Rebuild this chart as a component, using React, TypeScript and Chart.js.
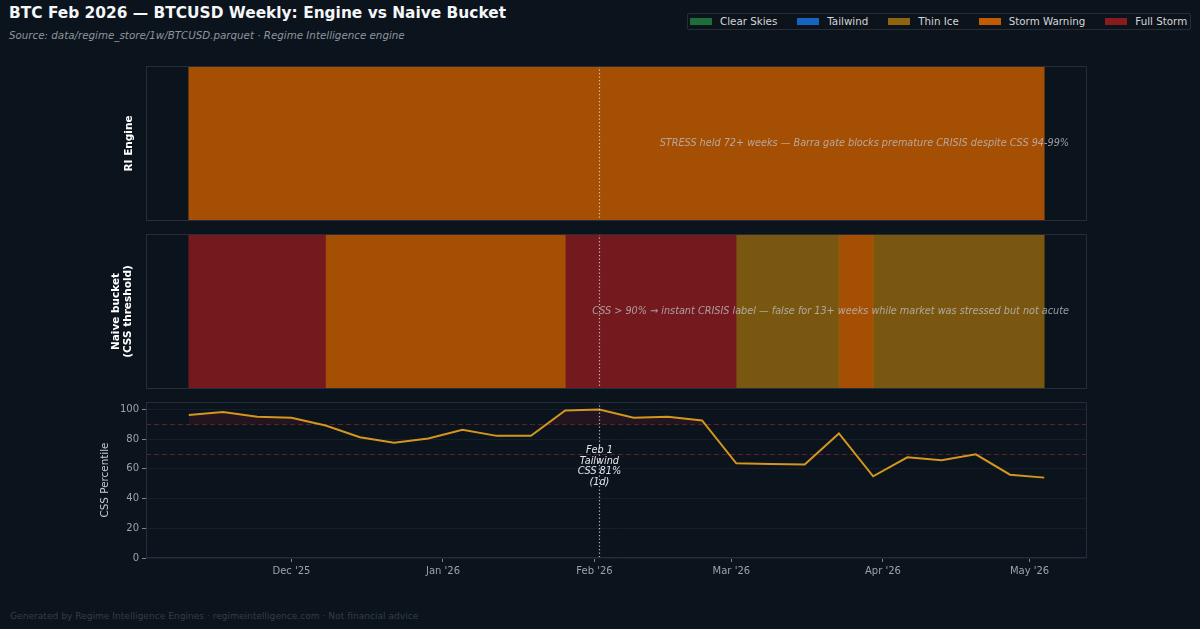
import React, { useEffect, useRef } from 'react';
import { Chart, registerables } from 'chart.js';

Chart.register(...registerables);

const FONT = '"DejaVu Sans", "Noto Sans", sans-serif';
Chart.defaults.font.family = FONT;

// Weekly bars (week start dates) and CSS percentile per week
const weekStarts = [
  '2025-11-10', '2025-11-17', '2025-11-24', '2025-12-01', '2025-12-08', '2025-12-15',
  '2025-12-22', '2025-12-29', '2026-01-05', '2026-01-12', '2026-01-19', '2026-01-26',
  '2026-02-02', '2026-02-09', '2026-02-16', '2026-02-23', '2026-03-02', '2026-03-09',
  '2026-03-16', '2026-03-23', '2026-03-30', '2026-04-06', '2026-04-13', '2026-04-20',
  '2026-04-27', '2026-05-04',
];
const cssPercentile = [
  96.2, 98.2, 95.0, 94.4, 89.2, 81.3, 77.5, 80.4, 86.3, 82.2, 82.2, 99.3, 100.0,
  94.4, 95.0, 92.6, 63.7, 63.3, 63.0, 83.8, 55.0, 67.8, 65.8, 69.8, 56.1, 54.1,
];

// Regime held from each week start to the next one
const engineRegime = [
  'Storm Warning', 'Storm Warning', 'Storm Warning', 'Storm Warning', 'Storm Warning',
  'Storm Warning', 'Storm Warning', 'Storm Warning', 'Storm Warning', 'Storm Warning',
  'Storm Warning', 'Storm Warning', 'Storm Warning', 'Storm Warning', 'Storm Warning',
  'Storm Warning', 'Storm Warning', 'Storm Warning', 'Storm Warning', 'Storm Warning',
  'Storm Warning', 'Storm Warning', 'Storm Warning', 'Storm Warning', 'Storm Warning',
];
const naiveRegime = [
  'Full Storm', 'Full Storm', 'Full Storm', 'Full Storm',
  'Storm Warning', 'Storm Warning', 'Storm Warning', 'Storm Warning', 'Storm Warning',
  'Storm Warning', 'Storm Warning',
  'Full Storm', 'Full Storm', 'Full Storm', 'Full Storm', 'Full Storm',
  'Thin Ice', 'Thin Ice', 'Thin Ice',
  'Storm Warning',
  'Thin Ice', 'Thin Ice', 'Thin Ice', 'Thin Ice', 'Thin Ice',
];

const regimeNames = ['Clear Skies', 'Tailwind', 'Thin Ice', 'Storm Warning', 'Full Storm'];
const regimeColors = ['#1e6e3c', '#1565c0', '#8e640f', '#c15a00', '#871b1e'];

const monthTicks = ['2025-12-01', '2026-01-01', '2026-02-01', '2026-03-01', '2026-04-01', '2026-05-01'];
const monthTickLabels = ["Dec '25", "Jan '26", "Feb '26", "Mar '26", "Apr '26", "May '26"];
const percentileTicks = [0, 20, 40, 60, 80, 100];
const thresholdLines = [90, 70];

const eventDate = '2026-02-02';
const eventNote = ['Feb 1', 'Tailwind', 'CSS 81%', '(1d)'];
const eventNoteLevel = 61.6;
const engineNote = 'STRESS held 72+ weeks \u2014 Barra gate blocks premature CRISIS despite CSS 94-99%';
const naiveNote = 'CSS > 90% \u2192 instant CRISIS label \u2014 false for 13+ weeks while market was stressed but not acute';

const toMs = (d: string) => Date.parse(d + 'T00:00:00Z');
const firstMs = toMs(weekStarts[0]);
const lastMs = toMs(weekStarts[weekStarts.length - 1]);
const xPad = (lastMs - firstMs) * 0.05;
const xMin = firstMs - xPad;
const xMax = lastMs + xPad;
const monthMs = monthTicks.map(toMs);

const PAGE_BG = '#0b131c';
const FRAME = '#252d38';
const AXIS_TEXT = '#9aa3ad';

function hexAlpha(hex: string, a: number) {
  const n = parseInt(hex.slice(1), 16);
  return `rgba(${(n >> 16) & 255},${(n >> 8) & 255},${n & 255},${a})`;
}

function regimeSpans(regimes: string[]) {
  const spans: { name: string; start: number; end: number }[] = [];
  regimes.forEach((name, i) => {
    const start = toMs(weekStarts[i]);
    const end = toMs(weekStarts[i + 1]);
    const last = spans[spans.length - 1];
    if (last && last.name === name) last.end = end;
    else spans.push({ name, start, end });
  });
  return spans;
}

const framePlugin = {
  id: 'frame',
  afterDatasetsDraw(chart: any) {
    const { ctx, chartArea: a } = chart;
    ctx.save();
    ctx.strokeStyle = FRAME;
    ctx.lineWidth = 1;
    ctx.strokeRect(a.left + 0.5, a.top + 0.5, a.right - a.left - 1, a.bottom - a.top - 1);
    ctx.restore();
  },
};

const eventLinePlugin = {
  id: 'eventLine',
  afterDatasetsDraw(chart: any) {
    const { ctx, chartArea: a, scales } = chart;
    const x = Math.round(scales.x.getPixelForValue(toMs(eventDate))) + 0.5;
    ctx.save();
    ctx.strokeStyle = 'rgba(225,228,232,0.8)';
    ctx.lineWidth = 1.2;
    ctx.setLineDash([1.3, 2.2]);
    ctx.beginPath();
    ctx.moveTo(x, a.top);
    ctx.lineTo(x, a.bottom);
    ctx.stroke();
    ctx.restore();
  },
};

function notePlugin(text: string) {
  return {
    id: 'note',
    afterDatasetsDraw(chart: any) {
      const { ctx, chartArea: a } = chart;
      ctx.save();
      ctx.font = `italic 9.7px ${FONT}`;
      ctx.fillStyle = 'rgba(190,192,196,0.78)';
      ctx.textAlign = 'right';
      ctx.textBaseline = 'middle';
      ctx.fillText(text, a.right - 18, (a.top + a.bottom) / 2);
      ctx.restore();
    },
  };
}

const thresholdPlugin = {
  id: 'thresholds',
  beforeDatasetsDraw(chart: any) {
    const { ctx, chartArea: a, scales } = chart;
    ctx.save();
    ctx.strokeStyle = 'rgba(125,36,40,0.8)';
    ctx.lineWidth = 1.1;
    ctx.setLineDash([5, 3]);
    thresholdLines.forEach((v) => {
      const y = Math.round(scales.y.getPixelForValue(v)) + 0.5;
      ctx.beginPath();
      ctx.moveTo(a.left, y);
      ctx.lineTo(a.right, y);
      ctx.stroke();
    });
    ctx.restore();
  },
};

const eventNotePlugin = {
  id: 'eventNote',
  afterDatasetsDraw(chart: any) {
    const { ctx, scales } = chart;
    const x = scales.x.getPixelForValue(toMs(eventDate));
    const yc = scales.y.getPixelForValue(eventNoteLevel);
    const lh = 10.4;
    ctx.save();
    ctx.font = `italic 9.7px ${FONT}`;
    ctx.fillStyle = '#e4e6ea';
    ctx.textAlign = 'center';
    ctx.textBaseline = 'middle';
    eventNote.forEach((line, i) => {
      ctx.fillText(line, x, yc + (i - (eventNote.length - 1) / 2) * lh);
    });
    ctx.restore();
  },
};

function bandConfig(regimes: string[], title: string | string[], titlePad: number, note: string): any {
  const spans = regimeSpans(regimes);
  return {
    type: 'bar',
    data: {
      labels: [''],
      datasets: spans.map((s) => ({
        label: s.name,
        data: [[s.start, s.end]],
        backgroundColor: hexAlpha(regimeColors[regimeNames.indexOf(s.name)], 0.85),
        borderWidth: 0,
        grouped: false,
        barPercentage: 1,
        categoryPercentage: 1,
      })),
    },
    options: {
      indexAxis: 'y',
      animation: false,
      responsive: false,
      events: [],
      layout: { padding: { top: 10, bottom: 10, left: 0, right: 113 } },
      plugins: { legend: { display: false }, tooltip: { enabled: false } },
      scales: {
        x: { type: 'linear', min: xMin, max: xMax, display: false },
        y: {
          type: 'category',
          ticks: { display: false },
          grid: { display: false },
          border: { display: false },
          title: {
            display: true,
            text: title,
            color: '#ffffff',
            font: { size: 10.5, weight: 'bold', lineHeight: 1.2 },
            padding: { top: titlePad, bottom: 0 },
          },
          afterFit: (s: any) => {
            s.width = 146;
          },
        },
      },
    },
    plugins: [eventLinePlugin, framePlugin, notePlugin(note)],
  };
}

function percentileConfig(): any {
  return {
    type: 'line',
    data: {
      datasets: [
        {
          label: 'CSS Percentile',
          data: weekStarts.map((d, i) => ({ x: toMs(d), y: cssPercentile[i] })),
          borderColor: '#d4961e',
          borderWidth: 2,
          pointRadius: 0,
          tension: 0,
          fill: { target: { value: 90 }, above: 'rgba(120,30,44,0.22)', below: 'rgba(0,0,0,0)' },
        },
      ],
    },
    options: {
      animation: false,
      responsive: false,
      events: [],
      layout: { padding: { top: 10, bottom: 0, left: 0, right: 113 } },
      plugins: { legend: { display: false }, tooltip: { enabled: false } },
      scales: {
        x: {
          type: 'linear',
          min: xMin,
          max: xMax,
          afterBuildTicks: (s: any) => {
            s.ticks = monthMs.map((v) => ({ value: v }));
          },
          ticks: {
            autoSkip: false,
            maxRotation: 0,
            padding: 3,
            color: AXIS_TEXT,
            font: { size: 10 },
            callback: (v: number) => monthTickLabels[monthMs.indexOf(v)] ?? '',
          },
          grid: { drawOnChartArea: false, drawTicks: true, tickLength: 4, tickColor: '#7d8690' },
          border: { display: false },
          afterFit: (s: any) => {
            s.height = 34;
          },
        },
        y: {
          min: 0,
          max: 105,
          afterBuildTicks: (s: any) => {
            s.ticks = percentileTicks.map((v) => ({ value: v }));
          },
          ticks: { padding: 3, color: AXIS_TEXT, font: { size: 10 } },
          grid: { color: '#161f29', tickColor: '#7d8690', tickLength: 4 },
          border: { display: false },
          title: {
            display: true,
            text: 'CSS Percentile',
            color: '#c9cdd2',
            font: { size: 10.4 },
            padding: { top: 99.5, bottom: 0 },
          },
          afterFit: (s: any) => {
            s.width = 146;
          },
        },
      },
    },
    plugins: [thresholdPlugin, eventLinePlugin, framePlugin, eventNotePlugin],
  };
}

export default function App() {
  const engineRef = useRef<HTMLCanvasElement>(null);
  const naiveRef = useRef<HTMLCanvasElement>(null);
  const cssRef = useRef<HTMLCanvasElement>(null);

  useEffect(() => {
    const charts = [
      new Chart(engineRef.current!, bandConfig(engineRegime, 'RI Engine', 122.7, engineNote)),
      new Chart(naiveRef.current!, bandConfig(naiveRegime, ['Naive bucket', '(CSS threshold)'], 109.7, naiveNote)),
      new Chart(cssRef.current!, percentileConfig()),
    ];
    return () => charts.forEach((c) => c.destroy());
  }, []);

  const abs = { position: 'absolute' as const, whiteSpace: 'nowrap' as const };

  return (
    <div
      style={{
        position: 'absolute',
        left: 0,
        top: 0,
        width: 1200,
        height: 629,
        background: PAGE_BG,
        overflow: 'hidden',
        fontFamily: FONT,
      }}
    >
      <div style={{ ...abs, left: 9, top: 6.4, fontSize: 15.4, lineHeight: '15.4px', fontWeight: 'bold', color: '#f4f6f8' }}>
        BTC Feb 2026 — BTCUSD Weekly: Engine vs Naive Bucket
      </div>
      <div style={{ ...abs, left: 9, top: 30.3, fontSize: 10.3, lineHeight: '10.3px', fontStyle: 'italic', color: '#8e959d' }}>
        Source: data/regime_store/1w/BTCUSD.parquet · Regime Intelligence engine
      </div>
      <div
        style={{
          ...abs,
          left: 687,
          top: 12.7,
          width: 504,
          height: 17.6,
          boxSizing: 'border-box',
          border: '1px solid #262d37',
          borderRadius: 2,
          background: '#0d131a',
          display: 'flex',
          alignItems: 'center',
          paddingLeft: 2,
        }}
      >
        {regimeNames.map((name, i) => (
          <div key={name} style={{ display: 'flex', alignItems: 'center', marginRight: 20 }}>
            <span style={{ display: 'inline-block', width: 22, height: 7.3, background: regimeColors[i], marginRight: 8 }} />
            <span style={{ fontSize: 10.3, lineHeight: '12px', color: '#d2d6da' }}>{name}</span>
          </div>
        ))}
      </div>
      <canvas ref={engineRef} width={1200} height={175} style={{ position: 'absolute', left: 0, top: 56 }} />
      <canvas ref={naiveRef} width={1200} height={175} style={{ position: 'absolute', left: 0, top: 224 }} />
      <canvas ref={cssRef} width={1200} height={200} style={{ position: 'absolute', left: 0, top: 392 }} />
      <div style={{ ...abs, left: 10, top: 612, fontSize: 9.1, lineHeight: '9.1px', color: '#353d47' }}>
        Generated by Regime Intelligence Engines · regimeintelligence.com · Not financial advice
      </div>
    </div>
  );
}
